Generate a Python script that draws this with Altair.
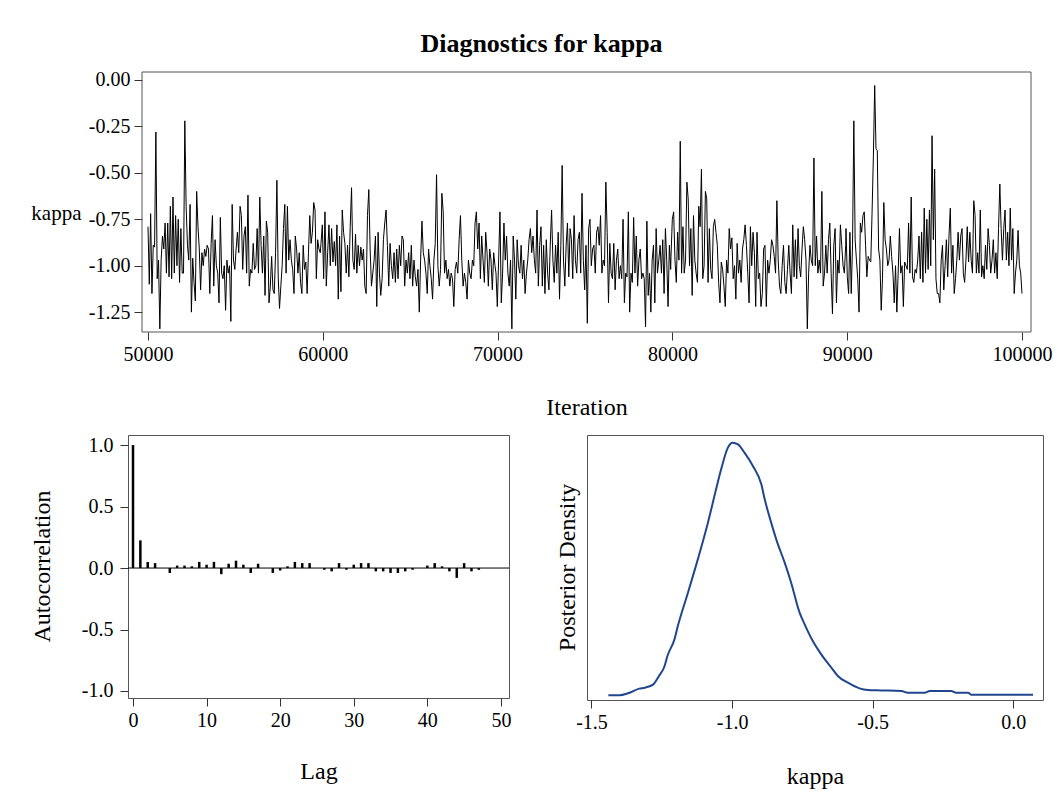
import altair as alt
import numpy as np
import pandas as pd

FONT = "Liberation Serif"

# ---------------- Trace data (kappa by iteration) -------------
seg_iter_ranges = [(50000, 59857), (59897, 69851), (69908, 79903), (79920, 89914), (89932, 100000)]

kappa_seg1 = [
    -0.79, -1.10, -0.72, -1.15, -0.89, -0.90, -0.28, -1.07, -0.97, -1.34,
    -0.97, -0.84, -0.91, -0.77, -1.04, -0.77, -1.06, -0.68, -1.07, -0.63,
    -1.04, -0.73, -1.00, -0.75, -1.09, -0.80, -1.04, -1.04, -0.22, -0.68,
    -0.89, -0.97, -0.67, -1.25, -0.96, -1.09, -1.19, -0.60, -0.79, -0.91,
    -1.13, -0.93, -1.00, -0.91, -0.95, -0.89, -0.91, -1.15, -0.88, -0.73,
    -1.11, -0.86, -1.00, -1.04, -1.20, -0.74, -1.04, -1.07, -1.00, -1.24,
    -0.97, -1.04, -1.00, -1.30, -0.67, -0.97, -1.02, -0.91, -0.82, -0.93,
    -0.68, -0.73, -1.02, -0.84, -0.79, -1.04, -0.62, -1.11, -1.02, -1.04,
    -0.88, -1.02, -1.00, -0.80, -1.04, -0.63, -0.89, -1.04, -0.84, -1.16,
    -0.76, -0.82, -1.20, -1.11, -0.95, -1.13, -1.15, -0.93, -0.54, -1.06,
    -1.23, -1.11, -1.00, -0.80, -0.67, -1.04, -0.68, -0.97, -0.86, -0.97,
    -1.02, -1.15, -0.84, -0.91, -1.04, -0.93, -1.09, -1.15, -0.89, -1.02,
    -0.98, -1.15, -0.93, -0.73, -0.88, -0.82, -0.66, -0.70, -1.07, -0.86,
    -0.91, -0.93,
]
kappa_seg2 = [
    -0.88, -0.78, -1.07, -0.71, -1.11, -0.93, -0.78, -1.00, -0.80, -0.98,
    -0.87, -1.00, -0.78, -1.18, -0.84, -1.14, -0.70, -0.82, -0.88, -1.04,
    -0.89, -1.06, -0.79, -0.58, -0.97, -1.02, -0.83, -1.04, -0.89, -1.00,
    -0.90, -0.97, -0.91, -1.11, -1.15, -0.73, -0.59, -0.91, -1.11, -1.04,
    -0.97, -0.84, -1.22, -0.82, -1.04, -1.16, -1.07, -0.86, -0.77, -0.70,
    -0.89, -1.11, -0.88, -1.00, -1.07, -0.93, -1.09, -0.91, -1.07, -0.89,
    -1.00, -0.84, -0.86, -1.11, -0.97, -1.04, -0.93, -1.07, -0.89, -1.11,
    -0.97, -1.06, -1.11, -1.02, -1.25, -0.97, -0.76, -0.93, -0.97, -1.04,
    -1.15, -0.91, -1.00, -1.07, -1.18, -0.97, -0.88, -0.51, -1.00, -1.11,
    -1.02, -0.61, -0.71, -1.04, -0.97, -1.07, -1.02, -1.11, -1.04, -1.07,
    -1.22, -1.02, -0.98, -1.04, -0.86, -0.73, -0.97, -1.11, -1.04, -1.09,
    -1.18, -0.97, -1.04, -1.07, -0.97, -1.00, -0.77, -0.71, -0.91, -0.77,
    -1.07, -0.84, -0.97, -1.09, -0.82, -0.93, -1.11, -0.91, -0.97, -1.13,
    -0.93, -1.00,
]
kappa_seg3 = [
    -1.04, -1.22, -0.97, -0.71, -1.20, -1.04, -0.77, -0.97, -0.84, -1.04,
    -1.11, -0.97, -1.34, -0.84, -0.97, -1.18, -0.86, -1.00, -1.04, -0.89,
    -1.07, -0.97, -1.15, -1.04, -0.97, -0.86, -0.80, -0.93, -0.84, -0.97,
    -1.04, -0.70, -1.11, -0.89, -0.79, -1.11, -0.89, -1.15, -0.86, -1.04,
    -1.13, -0.89, -0.70, -0.97, -1.09, -0.89, -1.04, -0.82, -1.18, -0.89,
    -0.46, -0.97, -1.11, -0.89, -0.77, -1.06, -0.80, -0.86, -1.07, -0.73,
    -0.97, -1.04, -0.86, -0.82, -1.04, -0.61, -0.97, -1.13, -0.89, -1.31,
    -0.80, -0.75, -1.00, -0.91, -0.89, -1.04, -0.82, -0.79, -0.89, -0.73,
    -1.04, -0.97, -1.00, -0.55, -0.82, -1.20, -0.88, -1.04, -1.07, -0.88,
    -1.13, -0.97, -0.91, -1.07, -1.00, -1.07, -0.75, -1.20, -1.04, -1.06,
    -0.71, -1.25, -1.04, -1.09, -0.74, -1.04, -0.84, -1.11, -0.97, -0.91,
    -1.07, -1.04, -1.07, -1.33, -0.76, -1.16, -1.04, -1.25, -0.97, -0.89,
    -1.20, -0.80, -1.04, -0.97, -0.89, -1.04, -0.86, -1.15, -0.80, -0.97,
    -1.22, -0.89, -1.02,
]
kappa_seg4 = [
    -0.95, -0.75, -0.71, -0.97, -1.09, -0.82, -0.97, -0.33, -1.04, -0.79,
    -1.04, -0.97, -0.55, -0.64, -1.00, -0.80, -1.16, -0.73, -0.97, -1.04,
    -1.09, -0.68, -0.79, -0.48, -1.07, -1.00, -0.60, -0.64, -1.09, -0.80,
    -1.02, -1.07, -0.79, -0.75, -0.82, -0.89, -1.09, -1.20, -0.98, -1.02,
    -1.11, -1.22, -0.97, -1.04, -0.80, -0.91, -0.85, -1.07, -1.00, -1.18,
    -0.88, -1.04, -0.97, -1.09, -0.91, -0.86, -0.78, -0.89, -1.04, -1.20,
    -0.79, -1.00, -0.82, -0.93, -1.22, -0.82, -1.07, -1.04, -1.22, -1.15,
    -0.91, -0.89, -1.22, -0.97, -1.04, -0.97, -0.86, -0.89, -0.95, -1.04,
    -0.65, -0.97, -1.11, -1.15, -1.00, -0.89, -1.09, -1.15, -1.02, -0.89,
    -1.04, -1.15, -0.78, -1.06, -0.86, -1.07, -0.80, -1.00, -1.06, -0.91,
    -0.79, -0.86, -0.97, -1.34, -1.04, -0.89, -0.97, -1.00, -0.42, -1.00,
    -0.84, -1.04, -0.97, -1.04, -0.60, -1.11, -1.04, -0.89, -1.04, -0.86,
    -0.77, -1.04, -1.26, -0.89, -0.80, -1.20, -0.97, -1.04, -0.78, -0.89,
    -1.00, -1.04, -0.89,
]
kappa_seg5 = [
    -0.80, -1.06, -1.15, -0.82, -1.15, -0.89, -0.22, -0.86, -0.97, -1.07,
    -1.25, -0.77, -0.82, -0.73, -0.71, -0.89, -1.06, -0.95, -0.97, -0.98,
    -0.71, -0.41, -0.03, -0.37, -0.38, -0.91, -0.97, -1.24, -1.07, -0.66,
    -0.86, -0.91, -1.00, -0.97, -0.84, -0.95, -1.04, -1.20, -1.00, -1.25,
    -1.04, -0.80, -1.04, -1.00, -1.22, -0.98, -1.00, -1.02, -0.77, -1.04,
    -0.63, -1.06, -1.09, -1.02, -1.04, -0.97, -0.84, -1.07, -0.82, -1.09,
    -0.69, -1.04, -0.75, -1.02, -0.70, -1.00, -0.30, -0.86, -0.48, -1.07,
    -1.15, -1.15, -1.20, -0.97, -0.89, -1.13, -1.00, -0.86, -1.06, -0.84,
    -0.69, -1.04, -0.89, -1.15, -1.07, -0.97, -0.82, -0.97, -0.84, -0.80,
    -1.04, -1.09, -0.97, -0.79, -0.98, -0.82, -0.97, -1.04, -0.65, -0.73,
    -1.04, -0.93, -1.04, -0.70, -1.06, -1.00, -1.07, -0.89, -1.02, -0.80,
    -0.89, -1.04, -0.97, -0.86, -1.04, -0.93, -1.07, -0.80, -0.56, -0.80,
    -0.97, -0.80, -0.70, -0.97, -0.82, -1.00, -0.69, -0.97, -0.80, -1.15,
    -1.04, -0.97, -0.81, -1.00, -1.04, -1.15,
]
kappa_segments = [kappa_seg1, kappa_seg2, kappa_seg3, kappa_seg4, kappa_seg5]

trace_x_ticks = [50000, 60000, 70000, 80000, 90000, 100000]
trace_y_ticks = [0.0, -0.25, -0.5, -0.75, -1.0, -1.25]

# ---------------- Autocorrelation data -------------
lags = list(range(48))
acf_values = [1.0, 0.225, 0.049, 0.04, 0.0, -0.04, 0.02, 0.02, 0.014, 0.05,
              0.027, 0.05, -0.05, 0.035, 0.06, 0.027, -0.04, 0.035, 0.0, -0.04,
              -0.02, 0.014, 0.05, 0.04, 0.04, 0.0, -0.014, -0.027, 0.04, -0.014,
              0.027, 0.04, 0.04, -0.027, -0.027, -0.04, -0.04, -0.027, -0.014, 0.0,
              0.02, 0.04, 0.014, -0.027, -0.08, 0.04, -0.027, -0.014]
acf_x_ticks = [0, 10, 20, 30, 40, 50]
acf_y_ticks = [-1.0, -0.5, 0.0, 0.5, 1.0]

# ---------------- Posterior density data -------------
dens_kappa = [-1.44, -1.40, -1.37, -1.33, -1.31, -1.28, -1.26, -1.24, -1.23, -1.205,
              -1.193, -1.157, -1.122, -1.086, -1.057, -1.039, -1.015, -0.998, -0.979, -0.956,
              -0.926, -0.896, -0.884, -0.861, -0.843, -0.813, -0.790, -0.760, -0.742, -0.713,
              -0.683, -0.647, -0.624, -0.588, -0.547, -0.517, -0.470, -0.398, -0.375, -0.315,
              -0.297, -0.221, -0.203, -0.161, -0.149, 0.070]
dens_values = [0.0, 0.0, 0.021, 0.069, 0.079, 0.113, 0.199, 0.302, 0.405, 0.576,
               0.713, 1.056, 1.399, 1.777, 2.120, 2.326, 2.549, 2.600, 2.583, 2.497,
               2.360, 2.171, 2.017, 1.777, 1.605, 1.365, 1.159, 0.851, 0.731, 0.559,
               0.422, 0.285, 0.199, 0.130, 0.072, 0.055, 0.051, 0.045, 0.027, 0.027,
               0.045, 0.045, 0.027, 0.027, 0.007, 0.007]
dens_x_ticks = [-1.5, -1.0, -0.5, 0.0]

# ---------------- Build tables -------------
iters, vals = [], []
for (a, b), seg in zip(seg_iter_ranges, kappa_segments):
    iters.extend(np.linspace(a, b, len(seg)).tolist())
    vals.extend(seg)
trace_df = pd.DataFrame({"Iteration": iters, "kappa": vals})
acf_df = pd.DataFrame({"Lag": lags, "acf": acf_values})
dens_df = pd.DataFrame({"kappa": dens_kappa, "density": dens_values})

minus_fix2 = "replace(format(datum.value, '.2f'), '\u2212', '-')"
minus_fix1 = "replace(format(datum.value, '.1f'), '\u2212', '-')"

FRAME = "#555555"

# ---------------- Trace panel -------------
trace_frame = alt.Chart(pd.DataFrame({"f": [0]})).mark_rect(
    filled=False, stroke=FRAME, strokeWidth=1
).encode(x=alt.value(14), x2=alt.value(903), y=alt.value(0), y2=alt.value(260))

trace_line = alt.Chart(trace_df).mark_line(color="black", strokeWidth=1).encode(
    x=alt.X("Iteration:Q",
            scale=alt.Scale(domain=[49657, 100515], range=[14, 903], nice=False, zero=False),
            axis=alt.Axis(values=trace_x_ticks, format="d", title="Iteration",
                          titleY=75, titleBaseline="middle")),
    y=alt.Y("kappa:Q",
            scale=alt.Scale(domain=[-1.357, 0.043], nice=False, zero=False),
            axis=alt.Axis(values=trace_y_ticks, labelExpr=minus_fix2, title="kappa",
                          offset=-14, titleAngle=0, titleAlign="right", titleBaseline="middle",
                          titleFontSize=21, titleX=-61, titleY=141)),
)

trace = alt.layer(trace_frame, trace_line).properties(
    width=903, height=260,
    view=alt.ViewBackground(stroke="transparent"),
    title=alt.Title("Diagnostics for kappa", font=FONT, fontSize=26, fontWeight="bold",
                    color="black", anchor="middle", frame="group", dx=-38,
                    baseline="alphabetic", offset=-8),
)

# ---------------- ACF panel -------------
acf_bars = alt.Chart(acf_df).mark_rule(color="black", strokeWidth=2.5).encode(
    x=alt.X("Lag:Q", scale=alt.Scale(domain=[-0.68, 51.1], nice=False, zero=False),
            axis=alt.Axis(values=acf_x_ticks, format="d", title="Lag",
                          titleY=73, titleBaseline="middle")),
    y=alt.Y("acf:Q", scale=alt.Scale(domain=[-1.057, 1.082], nice=False, zero=False),
            axis=alt.Axis(values=acf_y_ticks, labelExpr=minus_fix1, title="Autocorrelation",
                          labelPadding=7,
                          titleAngle=-90, titleAlign="center", titleBaseline="middle",
                          titleX=-86, titleY=131)),
    y2=alt.datum(0),
)
acf_zero = alt.Chart(pd.DataFrame({"z": [0]})).mark_rule(color="black", strokeWidth=1).encode(
    y=alt.datum(0)
)
acf = alt.layer(acf_zero, acf_bars).properties(width=381, height=263)

# ---------------- Density panel -------------
dens = alt.Chart(dens_df).mark_line(color="#20468f", strokeWidth=2, interpolate="monotone").encode(
    x=alt.X("kappa:Q", scale=alt.Scale(domain=[-1.516, 0.1056], nice=False, zero=False),
            axis=alt.Axis(values=dens_x_ticks, labelExpr=minus_fix1, title="kappa",
                          titleY=76, titleBaseline="middle")),
    y=alt.Y("density:Q", scale=alt.Scale(domain=[-0.048, 2.679], nice=False, zero=False),
            axis=alt.Axis(labels=False, ticks=False, title="Posterior Density",
                          titleAngle=-90, titleAlign="center", titleBaseline="middle",
                          titleX=-20, titleY=132)),
).properties(width=456, height=265)

bottom = alt.hconcat(acf, dens, spacing=78, bounds="flush")

chart = alt.vconcat(trace, bottom, spacing=103, bounds="flush").properties(
    padding={"left": 21, "top": 22, "right": 0, "bottom": 0}
).configure_axis(
    labelFont=FONT, titleFont=FONT, labelFontSize=20, titleFontSize=24,
    labelColor="black", titleColor="black", titleFontWeight="normal",
    tickColor="#333333", tickSize=8, labelPadding=4, domain=False, grid=False,
).configure_view(stroke=FRAME)

chart.save("out.html", embed_options={"renderer": "svg", "actions": False})
